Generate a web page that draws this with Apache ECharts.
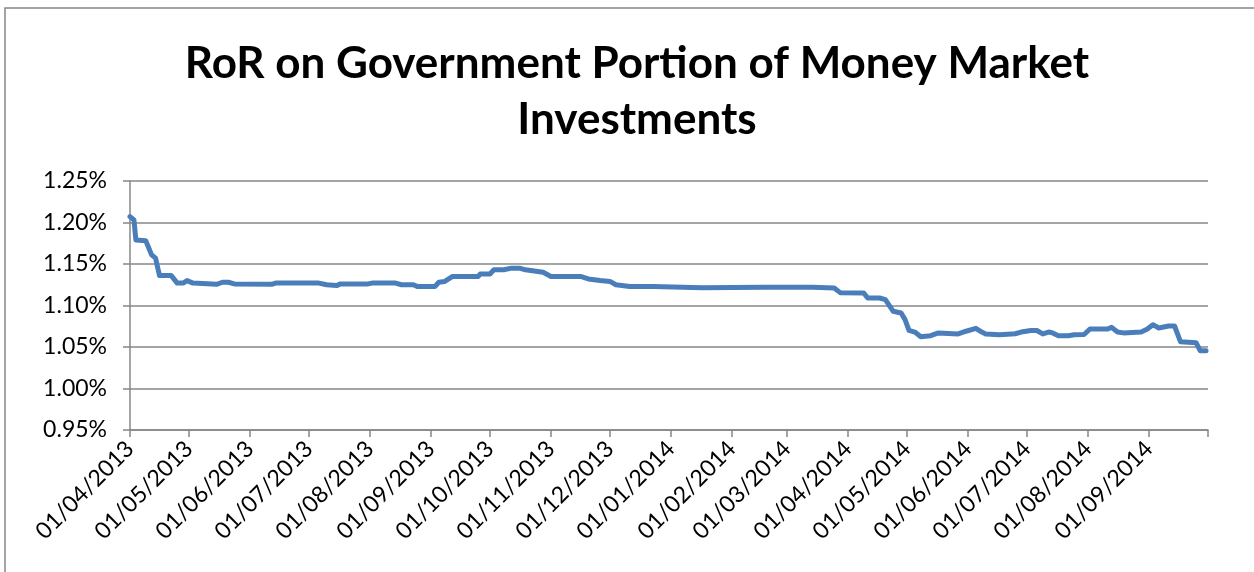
<!DOCTYPE html>
<html>
<head>
<meta charset="utf-8">
<script src="https://cdn.jsdelivr.net/npm/echarts@6/dist/echarts.min.js"></script>
<style>
  html, body { margin: 0; padding: 0; background: #fff; overflow: hidden; }
  #chart { width: 1254px; height: 572px; }
</style>
</head>
<body>
<div id="chart"></div>
<script>
// data (date, rate in %)
const dates = [
  '2013-04-01', '2013-04-03', '2013-04-04', '2013-04-09', '2013-04-12', '2013-04-14', '2013-04-16',
  '2013-04-22', '2013-04-25', '2013-04-28', '2013-04-30', '2013-05-03', '2013-05-15', '2013-05-18',
  '2013-05-21', '2013-05-24', '2013-06-12', '2013-06-14', '2013-07-06', '2013-07-10', '2013-07-15',
  '2013-07-17', '2013-07-31', '2013-08-02', '2013-08-14', '2013-08-17', '2013-08-23', '2013-08-25',
  '2013-09-03', '2013-09-05', '2013-09-08', '2013-09-12', '2013-09-25', '2013-09-26', '2013-10-01',
  '2013-10-03', '2013-10-08', '2013-10-12', '2013-10-16', '2013-10-19', '2013-10-28', '2013-11-01',
  '2013-11-16', '2013-11-20', '2013-11-26', '2013-12-01', '2013-12-04', '2013-12-11', '2013-12-23',
  '2014-01-17', '2014-02-17', '2014-03-14', '2014-03-25', '2014-03-28', '2014-04-09', '2014-04-11',
  '2014-04-17', '2014-04-20', '2014-04-24', '2014-04-28', '2014-04-30', '2014-05-02', '2014-05-05',
  '2014-05-08', '2014-05-13', '2014-05-17', '2014-05-27', '2014-05-31', '2014-06-05', '2014-06-08',
  '2014-06-10', '2014-06-17', '2014-06-25', '2014-06-28', '2014-07-03', '2014-07-06', '2014-07-09',
  '2014-07-12', '2014-07-14', '2014-07-17', '2014-07-22', '2014-07-25', '2014-07-30', '2014-08-02',
  '2014-08-11', '2014-08-13', '2014-08-16', '2014-08-19', '2014-08-28', '2014-08-31', '2014-09-03',
  '2014-09-06', '2014-09-11', '2014-09-14', '2014-09-17', '2014-09-25', '2014-09-27', '2014-09-30'
];
const rates = [
  1.207, 1.203, 1.179, 1.178, 1.161, 1.157, 1.136,
  1.136, 1.127, 1.127, 1.130, 1.127, 1.1255, 1.128,
  1.128, 1.126, 1.1255, 1.127, 1.127, 1.125, 1.124,
  1.126, 1.126, 1.127, 1.127, 1.125, 1.125, 1.123,
  1.123, 1.128, 1.129, 1.135, 1.135, 1.138, 1.138,
  1.143, 1.143, 1.145, 1.145, 1.143, 1.140, 1.135,
  1.135, 1.132, 1.130, 1.129, 1.125, 1.123, 1.123,
  1.1215, 1.122, 1.122, 1.121, 1.1155, 1.115, 1.109,
  1.109, 1.107, 1.093, 1.091, 1.083, 1.070, 1.068,
  1.0624, 1.0636, 1.067, 1.0657, 1.069, 1.0725, 1.068,
  1.0657, 1.0648, 1.066, 1.068, 1.0699, 1.0699, 1.0657,
  1.068, 1.067, 1.0636, 1.0636, 1.0648, 1.065, 1.0717,
  1.0717, 1.0737, 1.068, 1.067, 1.068, 1.0713, 1.0769,
  1.0729, 1.0753, 1.0753, 1.0564, 1.055, 1.0455, 1.0455
];
const titleText = 'RoR on Government Portion of Money Market\nInvestments';
const axisStart = '2013-04-01';
const axisEnd = '2014-10-01';

// one category per day along the date axis
const days = [];
for (let t = Date.parse(axisStart + 'T00:00:00Z'); t <= Date.parse(axisEnd + 'T00:00:00Z'); t += 86400000) {
  days.push(new Date(t).toISOString().slice(0, 10));
}
const isMonthStart = (idx, val) => val.slice(8) === '01';
const fmtDate = (val) => {
  if (val === axisEnd) return '';
  const p = val.split('-');
  return p[2] + '/' + p[1] + '/' + p[0];
};

const chart = echarts.init(document.getElementById('chart'));
const font = 'Lato, "Open Sans", sans-serif';
const gray = '#878787';

chart.setOption({
  animation: false,
  textStyle: { fontFamily: font },
  title: {
    text: titleText,
    left: 632,
    textAlign: 'center',
    top: 31,
    textStyle: { fontSize: 44, fontWeight: 'bold', color: '#000', lineHeight: 56, fontFamily: font }
  },
  graphic: [{
    type: 'rect',
    shape: { x: 5, y: 8, width: 1300, height: 620 },
    style: { fill: 'none', stroke: gray, lineWidth: 1.5 },
    silent: true
  }],
  grid: { left: 130, right: 46, top: 181, bottom: 142 },
  xAxis: {
    type: 'category',
    data: days,
    boundaryGap: false,
    axisLine: { lineStyle: { color: gray, width: 1.5 } },
    axisTick: { interval: isMonthStart, length: 7, lineStyle: { color: gray, width: 1.5 } },
    axisLabel: {
      interval: isMonthStart,
      rotate: 45,
      margin: 15,
      fontSize: 23,
      color: '#000',
      formatter: fmtDate
    },
    splitLine: { show: false }
  },
  yAxis: {
    type: 'value',
    min: 0.95,
    max: 1.25,
    interval: 0.05,
    axisLine: { show: true, lineStyle: { color: gray, width: 1.5 } },
    axisTick: { show: true, length: 7, lineStyle: { color: gray, width: 1.5 } },
    axisLabel: {
      fontSize: 23,
      color: '#000',
      margin: 23,
      formatter: (v) => v.toFixed(2) + '%'
    },
    splitLine: { lineStyle: { color: gray, width: 1.5 } }
  },
  series: [{
    type: 'line',
    data: dates.map((d, i) => [d, rates[i]]),
    showSymbol: false,
    smooth: false,
    lineStyle: { color: '#4a7ebb', width: 5, cap: 'round', join: 'round' }
  }]
});
</script>
</body>
</html>
